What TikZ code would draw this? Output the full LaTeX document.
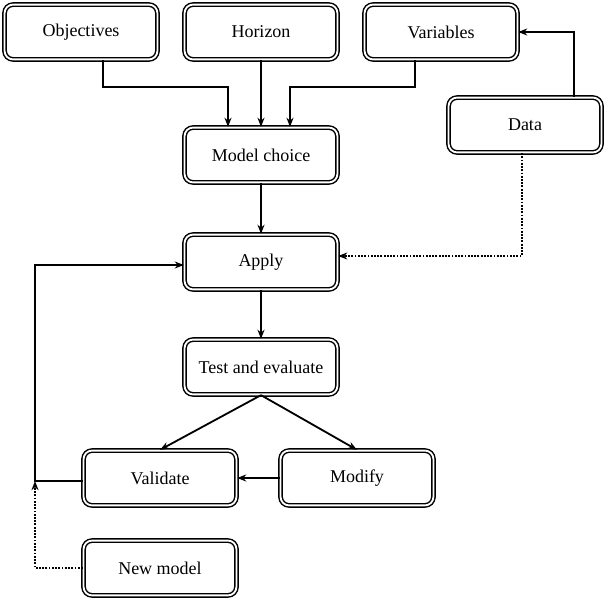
\documentclass[tikz,border=0pt]{standalone}
\usepackage{fontspec}
\setmainfont{Liberation Serif}
\usetikzlibrary{positioning,arrows.meta,calc}

\begin{document}
\begin{tikzpicture}[x=0.025cm, y=-0.025cm, font=\fontsize{12.8}{15}\selectfont,
    box/.style={draw=black, double=white, double distance=1.3pt, line width=1.05pt,
                rounded corners=6pt, minimum width=3.82cm, minimum height=1.37cm,
                align=center},
    arr/.style={line width=1.3pt, -{Stealth[length=6.5pt,width=5pt]}},
    dots/.style={line width=1.3pt, densely dotted}]
    \useasboundingbox (0,0) rectangle (608,600);

    \node[box] (obj)    at (81,32)   {Objectives};
    \node[box] (hor)    at (261,32)  {Horizon};
    \node[box] (var)    at (441,32)  {Variables};
    \node[box] (data)   at (525,125) {Data};
    \node[box] (choice) at (261,155) {Model choice};
    \node[box] (apply)  at (261,262) {Apply};
    \node[box] (test)   at (261,367) {Test and evaluate};
    \node[box] (valid)  at (160,478) {Validate};
    \node[box] (modif)  at (357,478) {Modify};
    \node[box] (newm)   at (160,568) {New model};
    \coordinate (loop) at (35,481);

    \draw[arr] ($(obj.south)+(22,0)$) -- ++(0,27) -| ($(choice.north)+(-33,0)$);
    \draw[arr] (hor) -- (choice);
    \draw[arr] ($(var.south)+(-26,0)$) -- ++(0,27) -| ($(choice.north)+(29,0)$);
    \draw[arr] ($(data.north)+(49,0)$) |- (var.east);
    \draw[arr, dots] ($(data.south)+(-3,0)$) |- ($(apply.east)+(0,-6)$);
    \draw[arr] (choice) -- (apply);
    \draw[arr] (apply) -- (test);
    \draw[arr] (test.south) -- (valid.north);
    \draw[arr] (test.south) -- (modif.north);
    \draw[arr] (modif) -- (valid);
    \draw[arr] ($(valid.west)+(0,3)$) -- (loop) |- ($(apply.west)+(0,3)$);
    \draw[arr, dots] (newm.west) -| (loop);
\end{tikzpicture}
\end{document}
